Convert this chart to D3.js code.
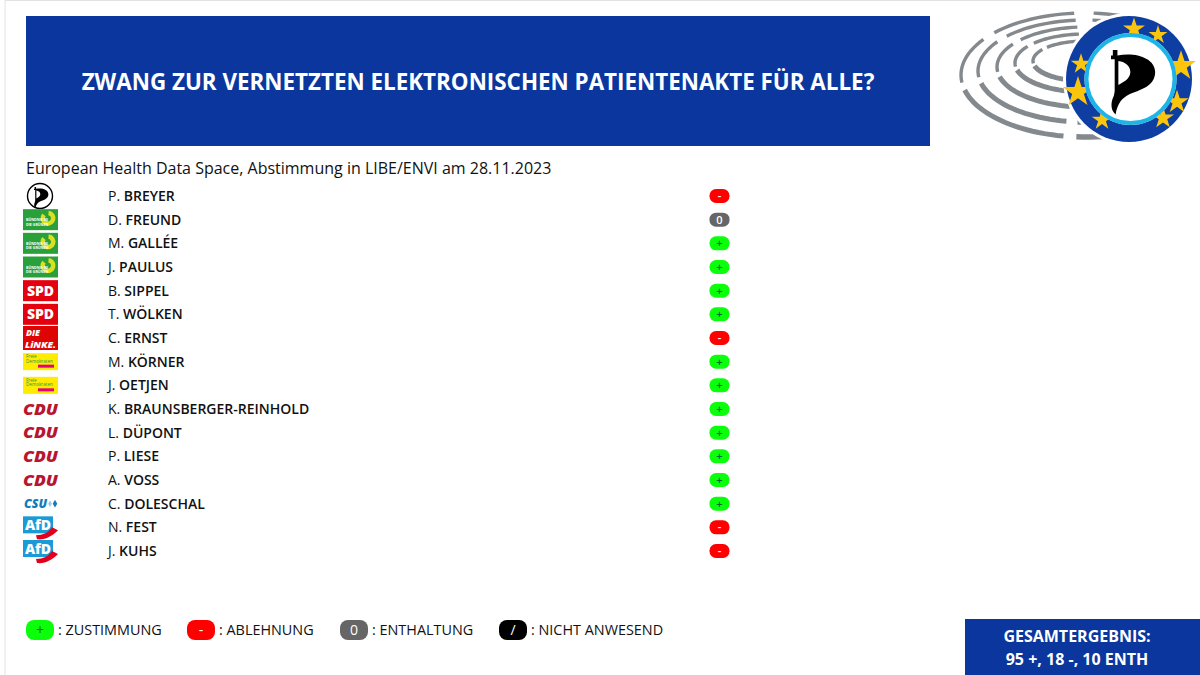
<!DOCTYPE html>
<html>
<head>
<meta charset="utf-8">
<script src="https://cdn.jsdelivr.net/npm/d3@7"></script>
<style>
  html, body { margin: 0; padding: 0; background: #fff; }
  svg { display: block; font-family: "Open Sans", sans-serif; }
</style>
</head>
<body>
<svg id="chart" width="1200" height="675"></svg>
<script>
const initials = ["P.", "D.", "M.", "J.", "B.", "T.", "C.", "M.", "J.", "K.", "L.", "P.", "A.", "C.", "N.", "J."];
const surnames = ["BREYER", "FREUND", "GALLÉE", "PAULUS", "SIPPEL", "WÖLKEN", "ERNST", "KÖRNER", "OETJEN",
    "BRAUNSBERGER-REINHOLD", "DÜPONT", "LIESE", "VOSS", "DOLESCHAL", "FEST", "KUHS"];
const parties = ["PIRATEN", "GRUENE", "GRUENE", "GRUENE", "SPD", "SPD", "LINKE", "FDP", "FDP",
    "CDU", "CDU", "CDU", "CDU", "CSU", "AFD", "AFD"];
const votes = ["-", "0", "+", "+", "+", "+", "-", "+", "+", "+", "+", "+", "+", "+", "-", "-"];
const voteKeys = ["+", "-", "0", "/"];
const voteLabels = [": ZUSTIMMUNG", ": ABLEHNUNG", ": ENTHALTUNG", ": NICHT ANWESEND"];
const legendStart = [26, 187, 340, 499];
const titleText = "ZWANG ZUR VERNETZTEN ELEKTRONISCHEN PATIENTENAKTE FÜR ALLE?";
const subtitleText = "European Health Data Space, Abstimmung in LIBE/ENVI am 28.11.2023";
const resultLines = ["GESAMTERGEBNIS:", "95 +, 18 -, 10 ENTH"];

const BLUE = "#0a369d";
const svg = d3.select("#chart");

const rowIds = d3.range(surnames.length);
const y = d3.scalePoint().domain(rowIds).range([196, 551]);
const voteFill = d3.scaleOrdinal().domain(voteKeys).range(["#0bff0b", "#ff0000", "#666666", "#000000"]);
const voteInk = d3.scaleOrdinal().domain(voteKeys).range(["#063", "#fff", "#fff", "#fff"]);

// page edge
svg.append("path").attr("d", "M5,675V0.5H1200").attr("fill", "none").attr("stroke", "#e2e2e2");

// header
svg.append("rect").attr("x", 26).attr("y", 16).attr("width", 904).attr("height", 130).attr("fill", BLUE);
svg.append("text").attr("x", 478).attr("y", 90).attr("text-anchor", "middle")
    .attr("fill", "#fff").attr("font-size", 22.4).attr("font-weight", 700).text(titleText);
svg.append("text").attr("x", 26).attr("y", 174).attr("fill", "#111").attr("font-size", 16).text(subtitleText);

// parliament + pirate badge
const logo = svg.append("g").attr("class", "logo");
const rings = [[1085, 75, 124, 62], [1085, 71, 107, 51], [1085, 67, 88, 40], [1085, 63, 70, 29], [1085, 61, 52, 20]];
const segments = [[4, 45, 3.4], [313, 355, 3.4], [263, 307, 3.4], [190, 256, 5], [130, 184, 5.5]];
rings.forEach(([cx, cy, rx, ry]) => {
    segments.forEach(([a0, a1, w]) => {
        const pts = d3.range(a0, a1 + 1, 3).map(a => {
            const t = a * Math.PI / 180;
            return [cx + rx * Math.sin(t), cy - ry * Math.cos(t)];
        });
        logo.append("path").attr("d", d3.line()(pts)).attr("fill", "none")
            .attr("stroke", "#84898d").attr("stroke-width", w);
    });
});
logo.append("circle").attr("cx", 1129).attr("cy", 79).attr("r", 66).attr("fill", "#fff");
logo.append("circle").attr("cx", 1129).attr("cy", 79).attr("r", 63).attr("fill", "#0f3ea3");
const star = d3.symbol().type(d3.symbolStar);
const stars = [[1134, 29, 150], [1158, 35, 110], [1181, 66, 280], [1177, 102, 170], [1163, 118, 150], [1102, 120, 130], [1078, 92, 290], [1081, 64, 130]];
stars.forEach(([sx, sy, size]) => {
    logo.append("path").attr("d", star.size(size)()).attr("transform", `translate(${sx},${sy})`).attr("fill", "#fbc50d");
});
logo.append("circle").attr("cx", 1130.5).attr("cy", 79).attr("r", 46).attr("fill", "#fff");
logo.append("circle").attr("cx", 1130.5).attr("cy", 79).attr("r", 44).attr("fill", "none").attr("stroke", "#1eb4e6").attr("stroke-width", 4);

function pirateFlag(g, s) {
    // flag drawn on a 50x70 box
    g.append("path").attr("transform", `scale(${s})`).attr("fill", "#000").attr("fill-rule", "evenodd")
        .attr("d", "M2,0H7V6C25,2 48,8 48,24C48,40 30,44 20,48C12,52 7,58 5,70C0,66 -1,58 3,50C3,50 4,46 4,44V10H0V6H2Z M8,12V38C16,34 21,30 21,24C21,18 16,13 8,12Z");
}
pirateFlag(logo.append("g").attr("transform", "translate(1111,50)"), 0.92);

// party marks
const drawers = {
    PIRATEN(g) {
        g.append("circle").attr("cx", 17).attr("r", 12.5).attr("fill", "#fff").attr("stroke", "#000").attr("stroke-width", 1.4);
        pirateFlag(g.append("g").attr("transform", "translate(11,-9)"), 0.3);
    },
    GRUENE(g) {
        g.append("rect").attr("x", 0).attr("y", -10.5).attr("width", 35).attr("height", 21).attr("fill", "#2aa03a");
        g.append("path").attr("transform", "translate(25,-1.5)")
            .attr("d", d3.arc().innerRadius(3).outerRadius(7.5)({ startAngle: 0.1, endAngle: 5.4 })).attr("fill", "#dbe021");
        ["BÜNDNIS 90", "DIE GRÜNEN"].forEach((t, i) => {
            g.append("text").attr("x", 3).attr("y", 1.5 + i * 4.5).attr("font-size", 3.6).attr("font-weight", 700).attr("fill", "#fff").text(t);
        });
    },
    SPD(g) {
        g.append("rect").attr("x", 0).attr("y", -10.5).attr("width", 35).attr("height", 21).attr("fill", "#e3000f");
        g.append("text").attr("x", 17.5).attr("y", 5).attr("text-anchor", "middle").attr("font-size", 14).attr("font-weight", 800).attr("fill", "#fff").text("SPD");
    },
    LINKE(g) {
        g.append("rect").attr("x", 0).attr("y", -12).attr("width", 35).attr("height", 24).attr("fill", "#df0404");
        g.append("text").attr("x", 3).attr("y", -2.5).attr("font-size", 8.7).attr("font-weight", 800).attr("font-style", "italic").attr("fill", "#fff").text("DIE");
        g.append("text").attr("x", 2).attr("y", 9.5).attr("font-size", 8.7).attr("font-weight", 800).attr("font-style", "italic").attr("fill", "#fff")
            .attr("textLength", 31).attr("lengthAdjust", "spacingAndGlyphs").text("LiNKE.");
    },
    FDP(g) {
        g.append("rect").attr("x", 0).attr("y", -8.5).attr("width", 35).attr("height", 17).attr("fill", "#ffec00");
        g.append("text").attr("x", 3).attr("y", -3.5).attr("font-size", 4.6).attr("fill", "#1b9a4b").text("Freie");
        g.append("text").attr("x", 3).attr("y", 1).attr("font-size", 4.6).attr("fill", "#1b9a4b").text("Demokraten");
        g.append("rect").attr("x", 15).attr("y", 3).attr("width", 16).attr("height", 3).attr("fill", "#e5007d");
    },
    CDU(g) {
        g.append("text").attr("x", 0).attr("y", 5.5).attr("font-size", 15).attr("font-weight", 800)
            .attr("font-style", "italic").attr("fill", "#b8162f")
            .attr("textLength", 35).attr("lengthAdjust", "spacingAndGlyphs").text("CDU");
    },
    CSU(g) {
        g.append("text").attr("x", 1).attr("y", 4.2).attr("font-size", 11.5).attr("font-weight", 800).attr("font-style", "italic").attr("fill", "#0f7db8")
            .attr("textLength", 23).attr("lengthAdjust", "spacingAndGlyphs").text("CSU");
        g.append("path").attr("d", d3.symbol().type(d3.symbolDiamond).size(18)()).attr("transform", "translate(32,0)").attr("fill", "#0f7db8");
        g.append("path").attr("d", d3.symbol().type(d3.symbolDiamond).size(12)()).attr("transform", "translate(27,0)").attr("fill", "#9fc8e4");
    },
    AFD(g) {
        g.append("rect").attr("x", 0).attr("y", -11).attr("width", 30).attr("height", 17).attr("fill", "#1a9bd7");
        g.append("text").attr("x", 15).attr("y", 2.5).attr("text-anchor", "middle").attr("font-size", 14).attr("font-weight", 800).attr("fill", "#fff").text("AfD");
        g.append("path").attr("d", "M13,8C20,8 26,5 29,0L35,3C29,9 22,13 14,12Z").attr("fill", "#e2001a");
    }
};

const rows = svg.append("g").selectAll("g").data(rowIds).enter().append("g")
    .attr("transform", d => `translate(0,${y(d)})`);

rows.append("g").attr("transform", "translate(23,0)").each(function (d) {
    drawers[parties[d]](d3.select(this));
});

const nameText = rows.append("text").attr("x", 108).attr("y", 5).attr("font-size", 14).attr("fill", "#111");
nameText.append("tspan").text(d => initials[d] + " ");
nameText.append("tspan").attr("font-weight", 600).text(d => surnames[d]);

rows.append("rect").attr("x", 709.5).attr("y", -7).attr("width", 20).attr("height", 14).attr("rx", 6.5)
    .attr("fill", d => voteFill(votes[d]));
rows.append("text").attr("x", 719.5).attr("y", 4).attr("text-anchor", "middle").attr("font-size", 11).attr("font-weight", 600)
    .attr("fill", d => voteInk(votes[d])).text(d => votes[d]);

// legend
const legend = svg.append("g").selectAll("g").data(voteKeys).enter().append("g")
    .attr("transform", (d, i) => `translate(${legendStart[i]},630)`);
legend.append("rect").attr("y", -10).attr("width", 28).attr("height", 20).attr("rx", 8).attr("fill", d => voteFill(d));
legend.append("text").attr("x", 14).attr("y", 5).attr("text-anchor", "middle").attr("font-size", 14)
    .attr("fill", d => voteInk(d)).text(d => d);
legend.append("text").attr("x", 32).attr("y", 5).attr("font-size", 14.4).attr("fill", "#111").text((d, i) => voteLabels[i]);

// result box
svg.append("rect").attr("x", 965).attr("y", 619).attr("width", 235).attr("height", 56).attr("fill", BLUE);
svg.selectAll(".result").data(resultLines).enter().append("text").attr("class", "result")
    .attr("x", 1077).attr("y", (d, i) => 642 + i * 23).attr("text-anchor", "middle")
    .attr("font-size", 16).attr("font-weight", 700).attr("fill", "#fff").text(d => d);
</script>
</body>
</html>
